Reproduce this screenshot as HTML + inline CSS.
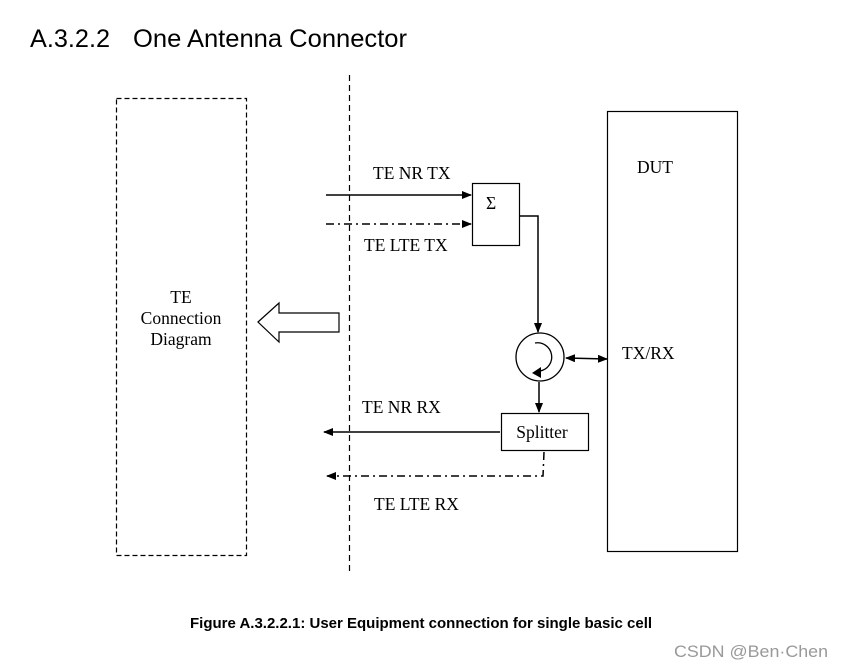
<!DOCTYPE html>
<html><head><meta charset="utf-8"><style>
body{margin:0;background:#fff;width:843px;height:668px;overflow:hidden}
svg{display:block}
</style></head><body>
<svg width="843" height="668" viewBox="0 0 843 668" xmlns="http://www.w3.org/2000/svg">
<defs>
<marker id="a" markerWidth="10" markerHeight="8" refX="9" refY="4" orient="auto" markerUnits="userSpaceOnUse"><path d="M0,0 L10,4 L0,8 Z" fill="#000"/></marker>
<marker id="b" markerWidth="10" markerHeight="8" refX="1" refY="4" orient="auto" markerUnits="userSpaceOnUse"><path d="M10,0 L0,4 L10,8 Z" fill="#000"/></marker>
</defs>
<text x="30" y="47" font-family="Liberation Sans, sans-serif" font-size="25" fill="#000" textLength="80" lengthAdjust="spacingAndGlyphs">A.3.2.2</text>
<text x="133" y="47" font-family="Liberation Sans, sans-serif" font-size="25" fill="#000" textLength="274" lengthAdjust="spacingAndGlyphs">One Antenna Connector</text>
<rect x="116.5" y="98.5" width="130" height="457" fill="none" stroke="#000" stroke-width="1.2" stroke-dasharray="5,3"/>
<line x1="349.5" y1="75" x2="349.5" y2="573" stroke="#000" stroke-width="1.2" stroke-dasharray="6,4"/>
<rect x="607.5" y="111.5" width="130" height="440" fill="none" stroke="#000" stroke-width="1.2"/>
<g font-family="Liberation Serif, serif" font-size="17.5" fill="#000">
<text x="181" y="303" text-anchor="middle">TE</text>
<text x="181" y="324" text-anchor="middle">Connection</text>
<text x="181" y="345" text-anchor="middle">Diagram</text>
<text x="637" y="173">DUT</text>
<text x="622" y="359">TX/RX</text>
<text x="373" y="179">TE NR TX</text>
<text x="364" y="251">TE LTE TX</text>
<text x="362" y="413">TE NR RX</text>
<text x="374" y="510">TE LTE RX</text>
<text x="542" y="438" text-anchor="middle">Splitter</text>
<text x="486" y="209">Σ</text>
</g>
<path d="M258,322 L279,303 L279,313 L339,313 L339,332 L279,332 L279,342 Z" fill="#fff" stroke="#000" stroke-width="1.2"/>
<rect x="472.5" y="183.5" width="47" height="62" fill="none" stroke="#000" stroke-width="1.2"/>
<line x1="326" y1="195" x2="471" y2="195" stroke="#000" stroke-width="1.5" marker-end="url(#a)"/>
<line x1="326" y1="224" x2="471" y2="224" stroke="#000" stroke-width="1.5" stroke-dasharray="8,4,2,4" marker-end="url(#a)"/>
<polyline points="520,216 538,216 538,332" fill="none" stroke="#000" stroke-width="1.5" marker-end="url(#a)"/>
<circle cx="540" cy="357" r="24" fill="none" stroke="#000" stroke-width="1.3"/>
<path d="M535,343 A14,14 0 1 1 540,371" fill="none" stroke="#000" stroke-width="1.3"/>
<path d="M532,373 L541,367 L541,378 Z" fill="#000"/>
<line x1="566" y1="358" x2="607" y2="359" stroke="#000" stroke-width="1.5" marker-start="url(#b)" marker-end="url(#a)"/>
<line x1="539" y1="382" x2="539" y2="412" stroke="#000" stroke-width="1.5" marker-end="url(#a)"/>
<rect x="501.5" y="413.5" width="87" height="37" fill="none" stroke="#000" stroke-width="1.2"/>
<line x1="500" y1="432" x2="324" y2="432" stroke="#000" stroke-width="1.5" marker-end="url(#a)"/>
<polyline points="544,452 543,476 327,476" fill="none" stroke="#000" stroke-width="1.5" stroke-dasharray="8,4,2,4" marker-end="url(#a)"/>
<text x="190" y="628" font-family="Liberation Sans, sans-serif" font-size="15" font-weight="bold" fill="#000">Figure A.3.2.2.1: User Equipment connection for single basic cell</text>
<text x="674" y="657" font-family="Liberation Sans, sans-serif" font-size="17" fill="#999" textLength="154" lengthAdjust="spacingAndGlyphs">CSDN @Ben·Chen</text>
</svg>
</body></html>
